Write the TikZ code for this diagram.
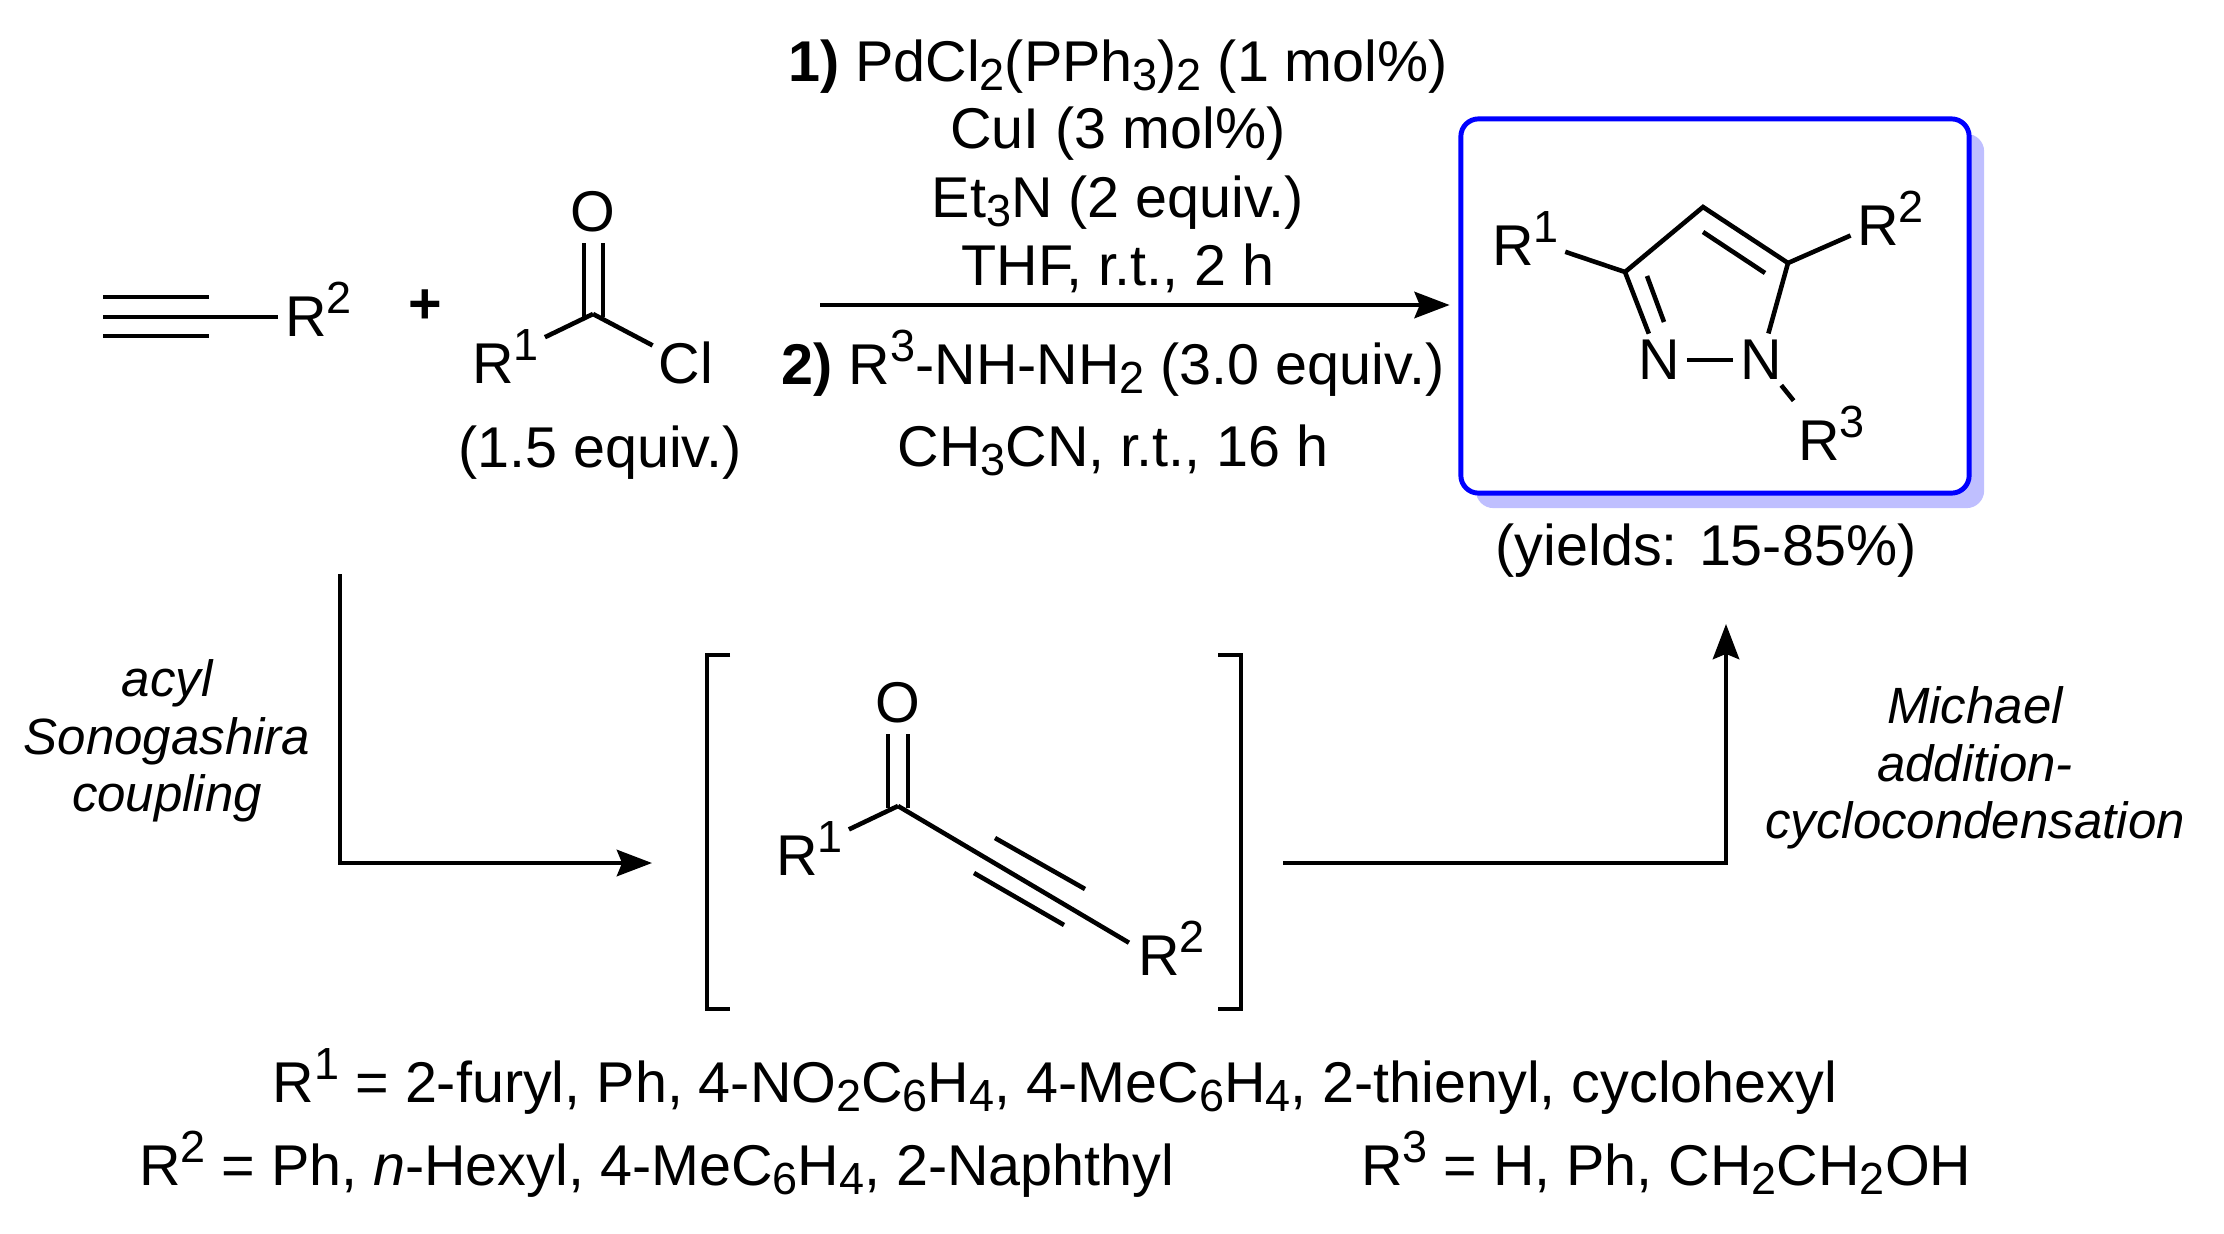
\documentclass[tikz,border=0pt]{standalone}
\usepackage{fontspec}
\setmainfont{Liberation Sans}
\usetikzlibrary{arrows.meta}
\newcommand{\sups}[1]{\raisebox{0.39em}{\fontsize{12.8}{13}\selectfont #1}}
\newcommand{\subs}[1]{\raisebox{-0.16em}{\fontsize{12.8}{13}\selectfont #1}}
\begin{document}
\begin{tikzpicture}[x=0.01cm,y=-0.01cm]
        \tikzstyle{txt}=[inner sep=0pt,outer sep=0pt,font=\fontsize{16.35}{19}\selectfont,anchor=base]
        \tikzstyle{itxt}=[txt,font=\fontsize{14.5}{17}\selectfont\itshape]
        \tikzstyle{atom}=[txt,anchor=base west]
        \tikzstyle{letter}=[txt,anchor=center]
        \tikzstyle{bond}=[draw,line width=1.3pt,shorten >=2pt]
        \tikzstyle{plain}=[draw,line width=1.3pt]
        \tikzstyle{edge}=[draw,line width=1.15pt,-{Stealth[length=10pt,width=7.5pt,inset=1.5pt]}]
        \useasboundingbox (0,0) rectangle (2224,1233);

        % boxed product
        \node [fill=blue!25,rounded corners=5pt,minimum width=5.08cm,minimum height=3.74cm] (prodshade) at (1730,321) {};
        \node [draw=blue,fill=white,line width=1.4pt,rounded corners=5pt,minimum width=5.08cm,minimum height=3.74cm] (prod) at (1715,306) {};
        \coordinate (c3) at (1625,272);
        \coordinate (c4) at (1703,207);
        \coordinate (c5) at (1788,263);
        \coordinate (c3in) at (1647,276);
        \coordinate (n1in) at (1664,322);
        \coordinate (c4in) at (1703,232);
        \coordinate (c5in) at (1765,273);
        \node [letter] (n1) at (1659,360) {N};
        \node [letter] (n2) at (1761,360) {N};
        \node [atom] (pr1) at (1492,265) {R\sups{1}};
        \node [atom] (pr2) at (1857,245) {R\sups{2}};
        \node [atom] (pr3) at (1798,460) {R\sups{3}};
        \path[plain] (c3) -- (c4) -- (c5);
        \path[bond] (c3) -- (pr1);
        \path[bond] (c5) -- (pr2);
        \path[bond] (c3) -- (n1);
        \path[bond] (c5) -- (n2);
        \path[plain] (c3in) -- (n1in);
        \path[plain] (c4in) -- (c5in);
        \path[bond,shorten <=2pt] (n1) -- (n2);
        \path[bond,shorten <=2pt] (n2) -- (pr3.north west);
        \node [txt] (yield) at (1706,565) {(yields: 15-85\%)};

        % alkyne and acid chloride
        \coordinate (tr1a) at (103,297);
        \coordinate (tr1b) at (209,297);
        \coordinate (tr2a) at (103,317);
        \coordinate (tr3a) at (103,336);
        \coordinate (tr3b) at (209,336);
        \node [atom] (ar2) at (285,336) {R\sups{2}};
        \path[plain] (tr1a) -- (tr1b);
        \path[plain] (tr3a) -- (tr3b);
        \path[bond] (tr2a) -- (ar2.west |- tr2a);
        \node [letter] (plus) at (425,307) {\textbf{+}};
        \coordinate (cc) at (593,314);
        \coordinate (dbl1a) at (584,317);
        \coordinate (dbl1b) at (584,243);
        \coordinate (dbl2a) at (603,317);
        \coordinate (dbl2b) at (603,243);
        \node [letter] (coo) at (593,212) {O};
        \node [atom] (cr1) at (472,383) {R\sups{1}};
        \node [letter] (ccl) at (686,363) {Cl};
        \path[plain] (dbl1a) -- (dbl1b);
        \path[plain] (dbl2a) -- (dbl2b);
        \path[bond] (cc) -- (cr1);
        \path[bond] (cc) -- (ccl);
        \node [txt] (equiv) at (600,467) {(1.5 equiv.)};

        % conditions over and under the arrow
        \node [txt] (cond1) at (1118,81) {\textbf{1)} PdCl\subs{2}(PPh\subs{3})\subs{2} (1 mol\%)};
        \node [txt] (cond2) at (1118,148) {CuI (3 mol\%)};
        \node [txt] (cond3) at (1118,217) {Et\subs{3}N (2 equiv.)};
        \node [txt] (cond4) at (1118,285) {THF, r.t., 2 h};
        \node [txt] (cond5) at (1113,384) {\textbf{2)} R\sups{3}-NH-NH\subs{2} (3.0 equiv.)};
        \node [txt] (cond6) at (1113,466) {CH\subs{3}CN, r.t., 16 h};
        \coordinate (mainstart) at (820,305);
        \path[edge,shorten >=2.5pt] (mainstart) -- (prod.west |- mainstart);

        % way through the intermediate
        \coordinate (lstart) at (340,574);
        \coordinate (lcorner) at (340,863);
        \coordinate (lend) at (652,863);
        \path[edge] (lstart) -- (lcorner) -- (lend);
        \node [itxt] (acyl1) at (167,696) {acyl};
        \node [itxt] (acyl2) at (167,754) {Sonogashira};
        \node [itxt] (acyl3) at (167,811) {coupling};

        \coordinate (bl1) at (730,655);
        \coordinate (bl2) at (707,655);
        \coordinate (bl3) at (707,1009);
        \coordinate (bl4) at (730,1009);
        \coordinate (br1) at (1218,655);
        \coordinate (br2) at (1241,655);
        \coordinate (br3) at (1241,1009);
        \coordinate (br4) at (1218,1009);
        \path[plain] (bl1) -- (bl2) -- (bl3) -- (bl4);
        \path[plain] (br1) -- (br2) -- (br3) -- (br4);

        \coordinate (ic) at (898,806);
        \coordinate (idbl1a) at (888,808);
        \coordinate (idbl1b) at (888,734);
        \coordinate (idbl2a) at (908,808);
        \coordinate (idbl2b) at (908,734);
        \coordinate (itr1a) at (995,838);
        \coordinate (itr1b) at (1085,889);
        \coordinate (itr2a) at (974,873);
        \coordinate (itr2b) at (1064,925);
        \node [letter] (io) at (898,703) {O};
        \node [atom] (ir1) at (776,875) {R\sups{1}};
        \node [atom] (ir2) at (1138,975) {R\sups{2}};
        \path[plain] (idbl1a) -- (idbl1b);
        \path[plain] (idbl2a) -- (idbl2b);
        \path[bond] (ic) -- (ir1);
        \path[bond,shorten >=3pt] (ic) -- (ir2.west);
        \path[plain] (itr1a) -- (itr1b);
        \path[plain] (itr2a) -- (itr2b);

        \coordinate (rstart) at (1283,863);
        \coordinate (rcorner) at (1726,863);
        \coordinate (rend) at (1726,624);
        \path[edge] (rstart) -- (rcorner) -- (rend);
        \node [itxt] (mich1) at (1975,723) {Michael};
        \node [itxt] (mich2) at (1975,781) {addition-};
        \node [itxt] (mich3) at (1975,838) {cyclocondensation};

        % substituents
        \node [txt] (sub1) at (1055,1102) {R\sups{1} = 2-furyl, Ph, 4-NO\subs{2}C\subs{6}H\subs{4}, 4-MeC\subs{6}H\subs{4}, 2-thienyl, cyclohexyl};
        \node [txt,anchor=base west] (sub2) at (139,1185) {R\sups{2} = Ph, \textit{n}-Hexyl, 4-MeC\subs{6}H\subs{4}, 2-Naphthyl};
        \node [txt,anchor=base west] (sub3) at (1361,1185) {R\sups{3} = H, Ph, CH\subs{2}CH\subs{2}OH};
\end{tikzpicture}
\end{document}
